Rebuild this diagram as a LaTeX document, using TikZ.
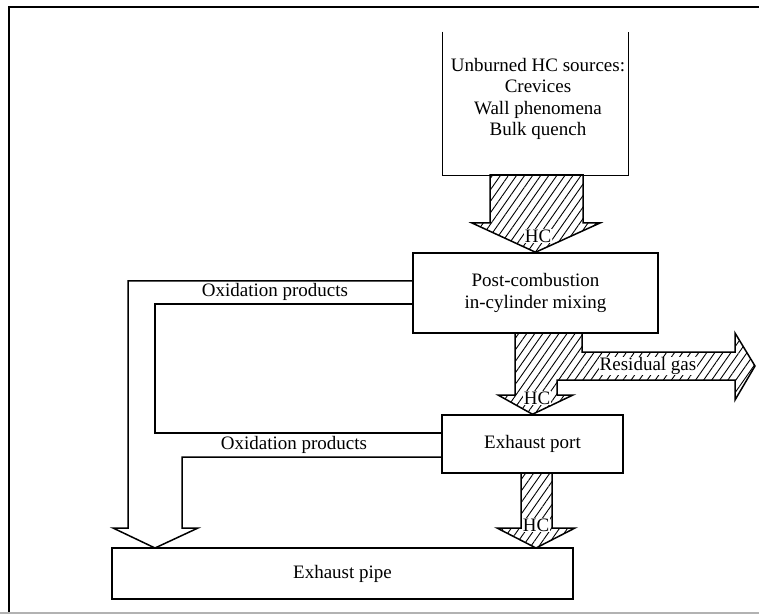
\documentclass[tikz,border=0pt]{standalone}
\usepackage{fontspec}
\setmainfont{Liberation Serif}
\usetikzlibrary{patterns.meta,calc}

\begin{document}
\begin{tikzpicture}[x=0.5pt,y=-0.5pt,
  txt/.style={font=\fontsize{9.5}{10.6}\selectfont,align=center,inner sep=0.5pt},
  flowtxt/.style={txt,fill=white,inner sep=0.4pt},
  blockbox/.style={draw,line width=0.75pt,rectangle,inner sep=0pt,
    font=\fontsize{9.5}{10.6}\selectfont,align=center},
  hatched/.style={draw,line width=0.75pt,line join=miter,
    pattern={Lines[angle=55,distance=3.3pt,line width=0.45pt]}},
  hollow/.style={draw,line width=0.75pt,line join=miter}]

\useasboundingbox (0,0) rectangle (759,614);

% page frame
\draw[line width=1pt] (9,614) -- (9,7) -- (759,7);
\draw[black!30,line width=0.8pt] (0,613) -- (759,613);

% boxes
\node[inner sep=0pt,minimum width=92.5pt,minimum height=71.5pt] (src) at (535.5,103.5) {};
\draw[line width=0.75pt] (src.north west) -- (src.south west) -- (src.south east) -- (src.north east);
\node[txt] (srctxt) at (538,99) {Unburned HC sources:\\Crevices\\Wall phenomena\\Bulk quench};

\node[blockbox,minimum width=122.5pt,minimum height=40pt] (post) at (535.5,293)
  {Post-combustion\\in-cylinder mixing};
\node[blockbox,minimum width=90.5pt,minimum height=29pt] (port) at (532.5,444) {Exhaust port};
\node[blockbox,minimum width=230.5pt,minimum height=25.5pt] (pipe) at (342.5,573.5) {Exhaust pipe};

% hatched HC flow: sources -> mixing
\draw[hatched] (490,175) -- (490,223) -- (472,223) -- (post.north) -- (600,223)
  -- (583,223) -- (583,175) -- cycle;

% hatched HC flow: mixing -> port, with residual gas branch
\draw[hatched] (515,333) -- (515,395) -- (498,395) -- (port.north) -- (573,395)
  -- (557,395) -- (557,380) -- (735,380) -- (735,400) -- (755,366) -- (735,333)
  -- (735,352) -- (582,352) -- (582,333) -- cycle;

% hatched HC flow: port -> pipe
\draw[hatched] (521,473) -- (521,528) -- (497,528) -- (536,548) -- (575,528)
  -- (552,528) -- (552,473) -- cycle;

% hollow oxidation-products flows into the pipe
\draw[hollow] ($(post.west)+(0,-12)$) -- (128,281) -- (128,528) -- (113,528)
  -- (155,548) -- (198,528) -- (182,528) -- (182,457) -- ($(port.west)+(0,13)$);
\draw[hollow] ($(post.west)+(0,11)$) -- (155,304) -- (155,433) -- ($(port.west)+(0,-11)$);

% labels
\node[txt] (ox1) at (275,292) {Oxidation products};
\node[txt] (ox2) at (294,445) {Oxidation products};
\node[flowtxt] (res) at (648,366) {Residual gas};
\node[flowtxt] (hc1) at (538,236) {HC};
\node[flowtxt] (hc2) at (537,398) {HC};
\node[flowtxt] (hc3) at (536,525) {HC};
\end{tikzpicture}
\end{document}
